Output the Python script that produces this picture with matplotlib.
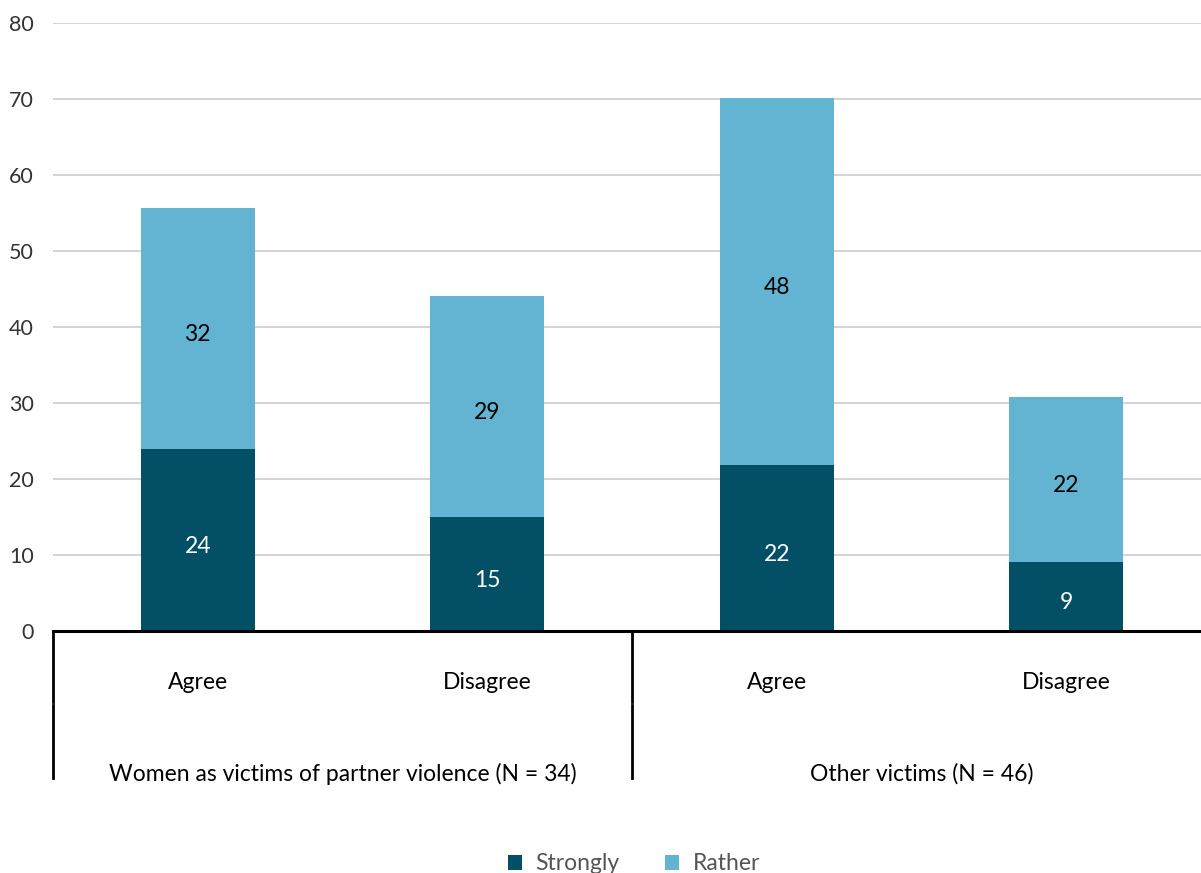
"""Stacked bars: agreement by victim group."""

import matplotlib
import matplotlib.pyplot as plt
import numpy as np

matplotlib.use("Agg")

plt.rcParams["font.family"] = ["Lato", "DejaVu Sans"]

categories = ["Agree", "Disagree", "Agree", "Disagree"]
groups = ["Women as victims of partner violence (N = 34)", "Other victims (N = 46)"]
strongly = [23.9, 15.0, 21.8, 9.1]
rather = [31.8, 29.1, 48.3, 21.7]
series_names = ["Strongly", "Rather"]
y_ticks = [0, 10, 20, 30, 40, 50, 60, 70, 80]

DARK = "#034f66"
LIGHT = "#63b3d3"
FS = 16.5


def main() -> None:
    fig = plt.figure(figsize=(12.01, 8.73), dpi=100)
    ax = fig.add_axes([53 / 1201, 242 / 873, 1158 / 1201, 608 / 873])

    x = np.arange(len(categories)) + 0.5
    width = 0.394
    b1 = ax.bar(x, strongly, width, color=DARK, label=series_names[0], zorder=3)
    b2 = ax.bar(x, rather, width, bottom=strongly, color=LIGHT, label=series_names[1], zorder=3)

    for xi, s, r in zip(x, strongly, rather):
        ax.annotate(f"{round(s)}", (xi, s / 2), xytext=(0, -3), textcoords="offset points",
                    ha="center", va="center_baseline", color="white", fontsize=FS, zorder=4)
        ax.annotate(f"{round(r)}", (xi, s + r / 2), xytext=(0, -3), textcoords="offset points",
                    ha="center", va="center_baseline", color="black", fontsize=FS, zorder=4)

    ax.set_xlim(0, len(categories))
    ax.set_ylim(0, 80)
    ax.set_yticks(y_ticks)
    ax.tick_params(axis="y", length=0, labelsize=15.5, labelcolor="#333333", pad=14)
    ax.set_xticks([])
    ax.yaxis.grid(True, color="#cccccc", linewidth=1.2, zorder=0)
    for side in ["top", "right", "left"]:
        ax.spines[side].set_visible(False)
    ax.spines["bottom"].set_linewidth(2.2)
    ax.spines["bottom"].set_zorder(5)

    # category and group labels under the axis
    trans = ax.get_xaxis_transform()
    for xi, cat in zip(x, categories):
        ax.text(xi, -0.084, cat, transform=trans, ha="center", va="center", fontsize=FS)
    for gi, grp in enumerate(groups):
        ax.text(gi * 2 + 1, -0.235, grp, transform=trans, ha="center", va="center", fontsize=FS)
    for sep in [0, 2, 4]:
        ax.plot([sep, sep], [0, -0.116], transform=trans, color="black", lw=2, clip_on=False)
        ax.plot([sep, sep], [-0.121, -0.242], transform=trans, color="black", lw=2, clip_on=False)

    fig.legend(
        handles=[b1, b2],
        labels=series_names,
        loc="center",
        bbox_to_anchor=(634 / 1201, 9 / 873),
        ncol=2,
        frameon=False,
        fontsize=FS,
        labelcolor="#555555",
        handlelength=0.6,
        handleheight=0.6,
        handletextpad=0.6,
        columnspacing=2.0,
    )

    fig.savefig("out.png", dpi=100)
    plt.close(fig)


if __name__ == "__main__":
    main()
